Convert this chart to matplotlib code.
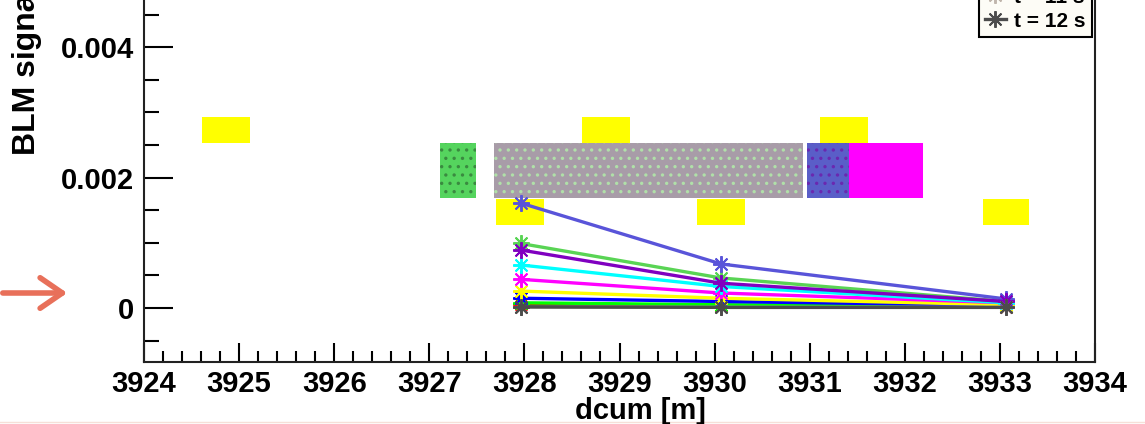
import matplotlib
matplotlib.use("Agg")
import matplotlib.pyplot as plt
from matplotlib.patches import Rectangle, FancyArrowPatch
from matplotlib.lines import Line2D
from matplotlib.ticker import MultipleLocator

plt.rcParams['font.family'] = ['Liberation Sans', 'DejaVu Sans']
plt.rcParams['font.weight'] = 'bold'
plt.rcParams['hatch.linewidth'] = 1.2

# BLM positions along the line (dcum, m)
blm_dcum = [3927.96, 3930.07, 3933.06]

# BLM signal at each monitor, one list per time step
blm_t01 = [0.00002, 0.00001, 0.00001]
blm_t02 = [0.00006, 0.00003, 0.00002]
blm_t03 = [0.00008, 0.00005, 0.00003]
blm_t04 = [0.00015, 0.00010, 0.00004]
blm_t05 = [0.00026, 0.00015, 0.00005]
blm_t06 = [0.00044, 0.00023, 0.00008]
blm_t07 = [0.00066, 0.00033, 0.00008]
blm_t08 = [0.00099, 0.00046, 0.00010]
blm_t09 = [0.00161, 0.000675, 0.00014]
blm_t10 = [0.00089, 0.00038, 0.00010]
blm_t11 = [0.00002, 0.00001, 0.00001]
blm_t12 = [0.00002, 0.00001, 0.00001]

series = [blm_t01, blm_t02, blm_t03, blm_t04, blm_t05, blm_t06,
          blm_t07, blm_t08, blm_t09, blm_t10, blm_t11, blm_t12]
times = [1, 2, 3, 4, 5, 6, 7, 8, 9, 10, 11, 12]
colors = ['#000000', '#ff0000', '#00ff00', '#0000ff', '#ffff00', '#ff00ff',
          '#00ffff', '#59d454', '#5954d9', '#8000c0', '#c0b6ac', '#4c4c4c']

# beamline elements drawn as boxes: start, end, low, high, colour, dot colour
elem_start = [3924.61, 3928.61, 3931.11, 3927.70, 3929.81, 3932.82,
              3927.11, 3927.68, 3930.97, 3931.41]
elem_end = [3925.11, 3929.11, 3931.61, 3928.21, 3930.32, 3933.31,
            3927.49, 3930.93, 3931.41, 3932.19]
elem_low = [0.00253, 0.00253, 0.00253, 0.00127, 0.00127, 0.00127,
            0.00168, 0.00168, 0.00168, 0.00168]
elem_high = [0.00293, 0.00293, 0.00293, 0.00167, 0.00167, 0.00167,
             0.00253, 0.00253, 0.00253, 0.00253]
elem_color = ['#ffff00', '#ffff00', '#ffff00', '#ffff00', '#ffff00', '#ffff00',
              '#55d45e', '#a89ca8', '#5a5ec8', '#ff00ff']
elem_dots = [None, None, None, None, None, None,
             '#3a8a40', '#b0e0a8', '#6a28b0', None]

W, H = 1145, 424
fig = plt.figure(figsize=(W / 100, H / 100), dpi=100)
fig.patch.set_facecolor('white')

ymin, ymax = -0.000828, 0.0055
x0, x1, y0 = 144, 1095, 62
ax_h = (ymax - ymin) * 65200
ax = fig.add_axes([x0 / W, y0 / H, (x1 - x0) / W, ax_h / H])
ax.set_xlim(3924, 3934)
ax.set_ylim(ymin, ymax)

for xs, xe, lo, hi, c, d in zip(elem_start, elem_end, elem_low, elem_high,
                                elem_color, elem_dots):
    if d is None:
        r = Rectangle((xs, lo), xe - xs, hi - lo, facecolor=c, edgecolor='none',
                      zorder=1)
    else:
        r = Rectangle((xs, lo), xe - xs, hi - lo, facecolor=c, edgecolor=d,
                      linewidth=0, hatch='..', zorder=1)
    ax.add_patch(r)

handles = []
for t, vals, c in zip(times, series, colors):
    ln, = ax.plot(blm_dcum, vals, color=c, lw=2.4, marker=(8, 2, 0),
                  markersize=12, markeredgewidth=1.4, markeredgecolor=c,
                  zorder=3, label='t = %d s' % t)
    handles.append(ln)

ax.xaxis.set_major_locator(MultipleLocator(1))
ax.xaxis.set_minor_locator(MultipleLocator(0.2))
ax.yaxis.set_minor_locator(MultipleLocator(0.0005))
ax.set_yticks([0, 0.002, 0.004])
ax.set_yticklabels(['0', '0.002', '0.004'])
ax.tick_params(axis='both', which='both', direction='in', width=1.5,
               labelsize=21, top=False, right=False)
ax.tick_params(axis='x', which='major', length=14, pad=6)
ax.tick_params(axis='x', which='minor', length=8)
ax.tick_params(axis='y', which='major', length=21, pad=7)
ax.tick_params(axis='y', which='minor', length=11)
for lab in ax.get_xticklabels() + ax.get_yticklabels():
    lab.set_fontweight('bold')
for s in ax.spines.values():
    s.set_linewidth(1.5)
    s.set_color('#222222')

fig.text(640 / W, 5 / H, 'dcum [m]', ha='center', va='baseline',
         fontsize=21, fontweight='bold')
fig.text(27 / W, 269 / H, 'BLM signal', rotation=90, ha='center', va='bottom',
         fontsize=23, fontweight='bold')

leg = ax.legend(handles=handles, loc='lower right',
                bbox_to_anchor=(1092 / W, 1 - 37 / H),
                bbox_transform=fig.transFigure, borderaxespad=0,
                prop={'weight': 'bold', 'size': 15},
                handlelength=1.0, handletextpad=0.4, labelspacing=0.25,
                borderpad=0.3, fancybox=False, framealpha=1)
leg.get_frame().set_edgecolor('black')
leg.get_frame().set_linewidth(1.5)
leg.get_frame().set_facecolor('#fdfcf6')

fig.add_artist(FancyArrowPatch((0, 1 - 293 / H), (70 / W, 1 - 293 / H),
                               transform=fig.transFigure,
                               arrowstyle='->,head_length=0.8,head_width=0.55',
                               mutation_scale=20, lw=4, color='#e8705a'))
fig.add_artist(Line2D([0, 1], [2 / H, 2 / H], transform=fig.transFigure,
                      color='#f6e0d8', lw=1))

fig.savefig('out.png', dpi=100)
